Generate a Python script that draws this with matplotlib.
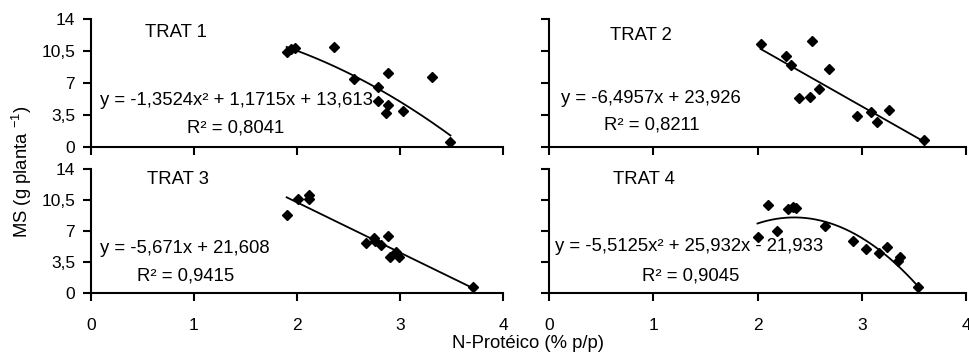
import numpy as np
import matplotlib
matplotlib.use("Agg")
import matplotlib.pyplot as plt

plt.rcParams['font.family'] = ['Liberation Sans', 'DejaVu Sans']
plt.rcParams['mathtext.fontset'] = 'custom'
plt.rcParams['mathtext.rm'] = 'Liberation Sans'
plt.rcParams['mathtext.it'] = 'Liberation Sans'
plt.rcParams['mathtext.default'] = 'regular'

# ---- data ----
trat1_x = [1.90, 1.94, 1.98, 2.36, 2.55, 2.79, 2.88, 3.31, 2.79, 2.88, 2.86, 3.03, 3.49]
trat1_y = [10.44, 10.70, 10.88, 10.92, 7.44, 6.52, 8.13, 7.62, 5.06, 4.54, 3.74, 3.92, 0.55]
trat1_coef = [-1.3524, 1.1715, 13.613]

trat2_x = [2.03, 2.27, 2.32, 2.52, 2.69, 2.59, 2.40, 2.50, 2.95, 3.09, 3.15, 3.26, 3.60]
trat2_y = [11.28, 9.93, 9.01, 11.65, 8.57, 6.37, 5.35, 5.49, 3.33, 3.81, 2.71, 3.99, 0.73]
trat2_coef = [0.0, -6.4957, 23.926]

trat3_x = [1.90, 2.01, 2.12, 2.12, 2.67, 2.75, 2.76, 2.82, 2.88, 2.90, 2.96, 2.99, 3.71]
trat3_y = [8.81, 10.61, 11.10, 10.61, 5.65, 6.21, 5.95, 5.46, 6.51, 4.06, 4.70, 4.14, 0.75]
trat3_coef = [0.0, -5.671, 21.608]

trat4_x = [2.00, 2.10, 2.19, 2.29, 2.34, 2.37, 2.65, 2.92, 3.04, 3.17, 3.24, 3.35, 3.37, 3.54]
trat4_y = [6.32, 9.97, 7.04, 9.48, 9.71, 9.67, 7.64, 5.91, 4.97, 4.52, 5.19, 3.69, 4.06, 0.75]
trat4_coef = [-5.5125, 25.932, -21.933]

titles = ["TRAT 1", "TRAT 2", "TRAT 3", "TRAT 4"]
equations = ["y = -1,3524x² + 1,1715x + 13,613",
             "y = -6,4957x + 23,926",
             "y = -5,671x + 21,608",
             "y = -5,5125x² + 25,932x - 21,933"]
r2_labels = ["R² = 0,8041", "R² = 0,8211", "R² = 0,9415", "R² = 0,9045"]

x_ticks = [0, 1, 2, 3, 4]
x_ticklabels = ["0", "1", "2", "3", "4"]
y_ticks = [0, 3.5, 7, 10.5, 14]
y_ticklabels = ["0", "3,5", "7", "10,5", "14"]

xs = [trat1_x, trat2_x, trat3_x, trat4_x]
ys = [trat1_y, trat2_y, trat3_y, trat4_y]
coefs = [trat1_coef, trat2_coef, trat3_coef, trat4_coef]

# ---- layout ----
fig = plt.figure(figsize=(9.69, 3.54), dpi=100)
rects = [
    (0.0939, 0.5856, 0.4252, 0.3599),
    (0.5666, 0.5856, 0.4303, 0.3599),
    (0.0939, 0.1715, 0.4252, 0.3503),
    (0.5666, 0.1715, 0.4303, 0.3503),
]
title_pos = [(0.82, 12.6), (0.88, 12.2), (0.84, 12.9), (0.91, 12.9)]
eq_pos = [(1.41, 5.13), (0.98, 5.26), (0.91, 5.11), (1.34, 5.23)]
r2_pos = [(1.40, 2.05), (0.99, 2.43), (0.92, 1.95), (1.36, 1.95)]

fs = 13.3
tfs = 12.5
for i in range(4):
    ax = fig.add_axes(rects[i])
    x = np.array(xs[i]); y = np.array(ys[i])
    xx = np.linspace(x.min(), x.max(), 200)
    yy = np.polyval(coefs[i], xx)
    ax.plot(xx, yy, color='black', lw=1.3, zorder=2)
    ax.plot(x, y, linestyle='none', marker='D', markersize=5.5,
            color='black', zorder=3)
    ax.set_xlim(0, 4)
    ax.set_ylim(0, 14)
    ax.set_xticks(x_ticks)
    ax.set_yticks(y_ticks)
    if i >= 2:
        ax.set_xticklabels(x_ticklabels, fontsize=tfs)
    else:
        ax.set_xticklabels([])
    if i % 2 == 0:
        ax.set_yticklabels(y_ticklabels, fontsize=tfs)
    else:
        ax.set_yticklabels([])
    for s in ['top', 'right']:
        ax.spines[s].set_visible(False)
    for s in ['left', 'bottom']:
        ax.spines[s].set_linewidth(1.5)
        ax.spines[s].set_color('black')
    ax.tick_params(axis='both', direction='out', length=5.5, width=1.5,
                   colors='black')
    ax.tick_params(axis='y', pad=6)
    ax.tick_params(axis='x', pad=12)
    ax.patch.set_alpha(0)
    ax.text(*title_pos[i], titles[i], ha='center', va='center', fontsize=fs)
    ax.text(*eq_pos[i], equations[i], ha='center', va='center', fontsize=fs)
    ax.text(*r2_pos[i], r2_labels[i], ha='center', va='center', fontsize=fs)

fig.text(0.023, 0.514, "MS (g planta $^{-1}$)", rotation=90,
         ha='center', va='center', fontsize=fs)
fig.text(0.545, 0.031, "N-Protéico (% p/p)", ha='center', va='center',
         fontsize=fs)

fig.savefig("out.png", dpi=100)
